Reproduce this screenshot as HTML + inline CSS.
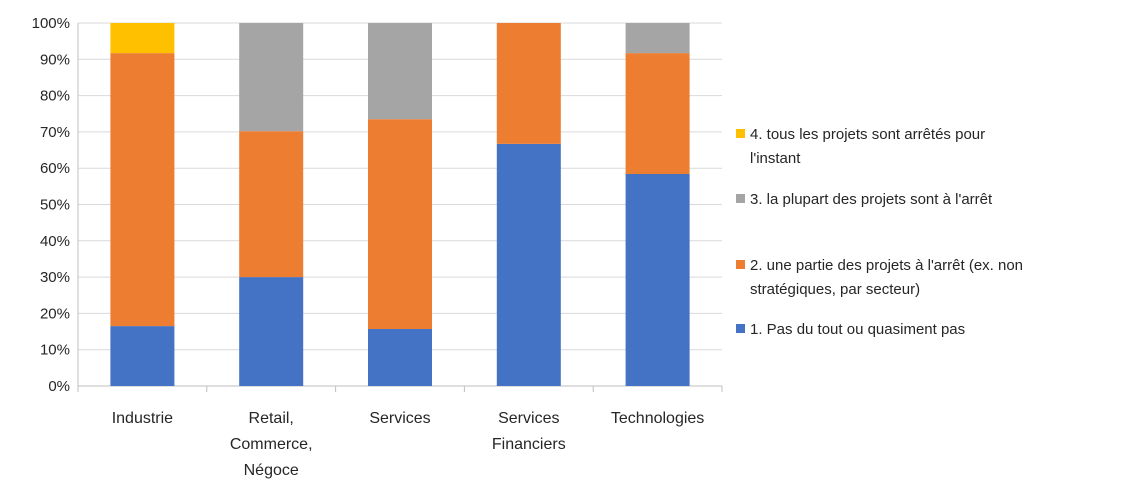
<!DOCTYPE html>
<html><head><meta charset="utf-8"><style>
body{margin:0;background:#fff;font-family:"Liberation Sans",sans-serif;}
svg text{font-family:"Liberation Sans",sans-serif;fill:#262626;}
</style></head><body>
<svg id="c" width="1134" height="498"></svg>
<script>
const categories=[["Industrie"],["Retail,","Commerce,","Négoce"],["Services"],["Services","Financiers"],["Technologies"]];
const s1=[16.5,30,15.7,66.7,58.4];
const s2=[75.2,40.2,57.8,33.3,33.3];
const s3=[0,29.8,26.5,0,8.3];
const s4=[8.3,0,0,0,0];
const series=[s1,s2,s3,s4];
const colors=["#4472c4","#ed7d31","#a5a5a5","#ffc000"];
const names=["1. Pas du tout ou quasiment pas","2. une partie des projets à l'arrêt (ex. non|stratégiques, par secteur)","3. la plupart des projets sont à l'arrêt","4. tous les projets sont arrêtés pour|l'instant"];
const ticks=[0,10,20,30,40,50,60,70,80,90,100];
const svg=document.getElementById('c');const NS="http://www.w3.org/2000/svg";
const x0=78,x1=722,yTop=23,yBot=386;
const y=v=>yBot-(yBot-yTop)*v/100;
const bw=(x1-x0)/categories.length;
function el(t,a,p){const e=document.createElementNS(NS,t);for(const k in a)e.setAttribute(k,a[k]);(p||svg).appendChild(e);return e;}
ticks.forEach(t=>{
 const g=el('line',{x1:x0,x2:x1,y1:y(t),y2:y(t),stroke:t===0?'#bfbfbf':'#d9d9d9','stroke-width':1});
 
 
 const l=el('text',{x:x0-8,y:y(t)+5,'text-anchor':'end','font-size':15});l.textContent=t+'%';
 
 
});
el('line',{x1:x0,x2:x0,y1:yTop,y2:yBot,stroke:'#bfbfbf'});
categories.forEach((c,i)=>{
 const cx=x0+bw*(i+0.5);let acc=0;
 series.forEach((s,j)=>{
  if(s[i]>0){const r=el('rect',{x:cx-32,width:64,y:y(acc+s[i]),height:y(acc)-y(acc+s[i]),fill:colors[j]});
  
  }
  acc+=s[i];
 });
 el('line',{x1:x0+bw*(i+1),x2:x0+bw*(i+1),y1:yBot,y2:yBot+6,stroke:'#bfbfbf'});
 c.forEach((ln,k)=>{const t=el('text',{x:cx,y:423+k*26,'text-anchor':'middle','font-size':16});t.textContent=ln;
 
 });
});
el('line',{x1:x0,x2:x0,y1:yBot,y2:yBot+6,stroke:'#bfbfbf'});
const ly=[139,204,270,334];
[3,2,1,0].forEach((j,k)=>{
 const g=el('g',{});
 
 
 el('rect',{x:736,y:ly[k]-10,width:9,height:9,fill:colors[j]},g);
 names[j].split('|').forEach((ln,m)=>{const t=el('text',{x:750,y:ly[k]+m*24,'font-size':15},g);t.textContent=ln;});
});
</script>
</body></html>
